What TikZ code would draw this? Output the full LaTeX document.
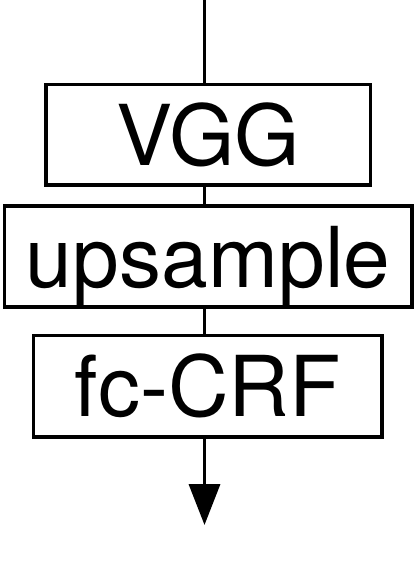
\documentclass[tikz,border=0pt]{standalone}
\usepackage{fontspec}
\setmainfont{TeX Gyre Heros}
\usetikzlibrary{arrows.meta}
\begin{document}
\begin{tikzpicture}[x=1pt,y=-1pt,
  blk/.style={draw=black, line width=3.6pt, inner sep=0pt, text height=61pt, text depth=0pt,
    font=\fontsize{84}{100}\selectfont},
  conn/.style={draw=black, line width=3.6pt}]
\useasboundingbox (0,0) rectangle (416,587);
\coordinate (top) at (204.5,0);
\coordinate (end) at (204.5,525);
\node[blk, minimum width=324.5pt, minimum height=100.5pt] (vgg) at (208.25,134.75) {VGG};
\node[blk, minimum width=407.5pt, minimum height=101pt] (up) at (208.25,256.5) {upsample};
\node[blk, minimum width=348.5pt, minimum height=101.5pt] (crf) at (207.75,386.25) {fc-CRF};
\draw[conn] (top) -- (top |- vgg.north);
\draw[conn] (top |- vgg.south) -- (top |- up.north);
\draw[conn] (top |- up.south) -- (top |- crf.north);
\draw[conn, -{Triangle[length=41pt,width=31pt]}] (top |- crf.south) -- (end);
\end{tikzpicture}
\end{document}
